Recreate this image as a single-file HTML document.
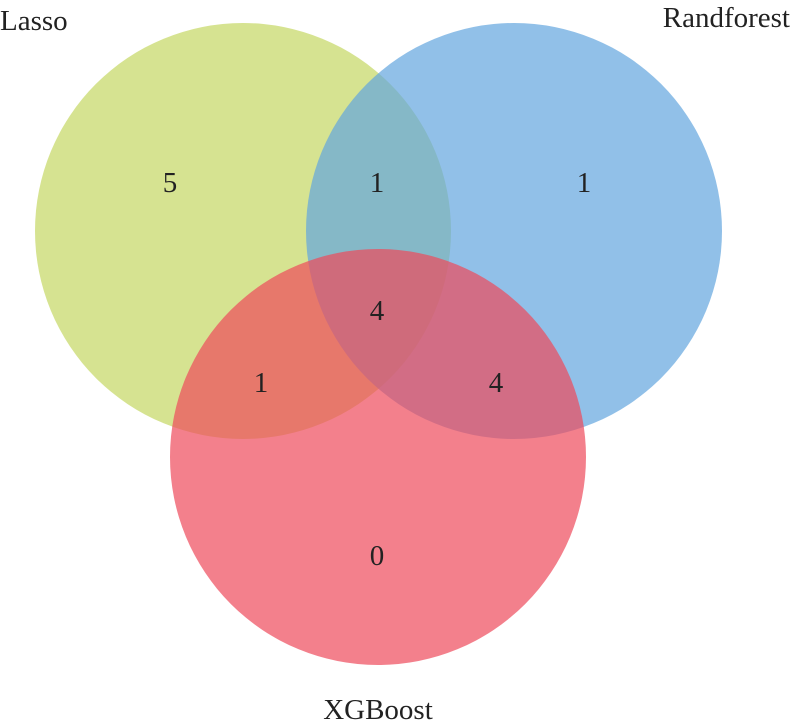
<!DOCTYPE html>
<html><head><meta charset="utf-8"><style>
html,body{margin:0;padding:0;background:#fff;}
svg{display:block;}
text{font-family:"Liberation Serif",serif;font-size:29px;fill:#222;}
</style></head><body>
<svg width="792" height="725" viewBox="0 0 792 725">
<circle cx="243" cy="231" r="208" fill="rgb(196,215,98)" fill-opacity="0.7"/>
<circle cx="514" cy="231" r="208" fill="rgb(98,165,222)" fill-opacity="0.7"/>
<circle cx="378" cy="457" r="208" fill="rgb(238,74,91)" fill-opacity="0.7"/>
<text x="0" y="30">Lasso</text>
<text x="790" y="27" text-anchor="end">Randforest</text>
<text x="378" y="719" text-anchor="middle">XGBoost</text>
<g text-anchor="middle">
<text x="170" y="192">5</text>
<text x="377" y="192">1</text>
<text x="584" y="192">1</text>
<text x="377" y="320">4</text>
<text x="261" y="392">1</text>
<text x="496" y="392">4</text>
<text x="377" y="565">0</text>
</g>
</svg>
</body></html>
